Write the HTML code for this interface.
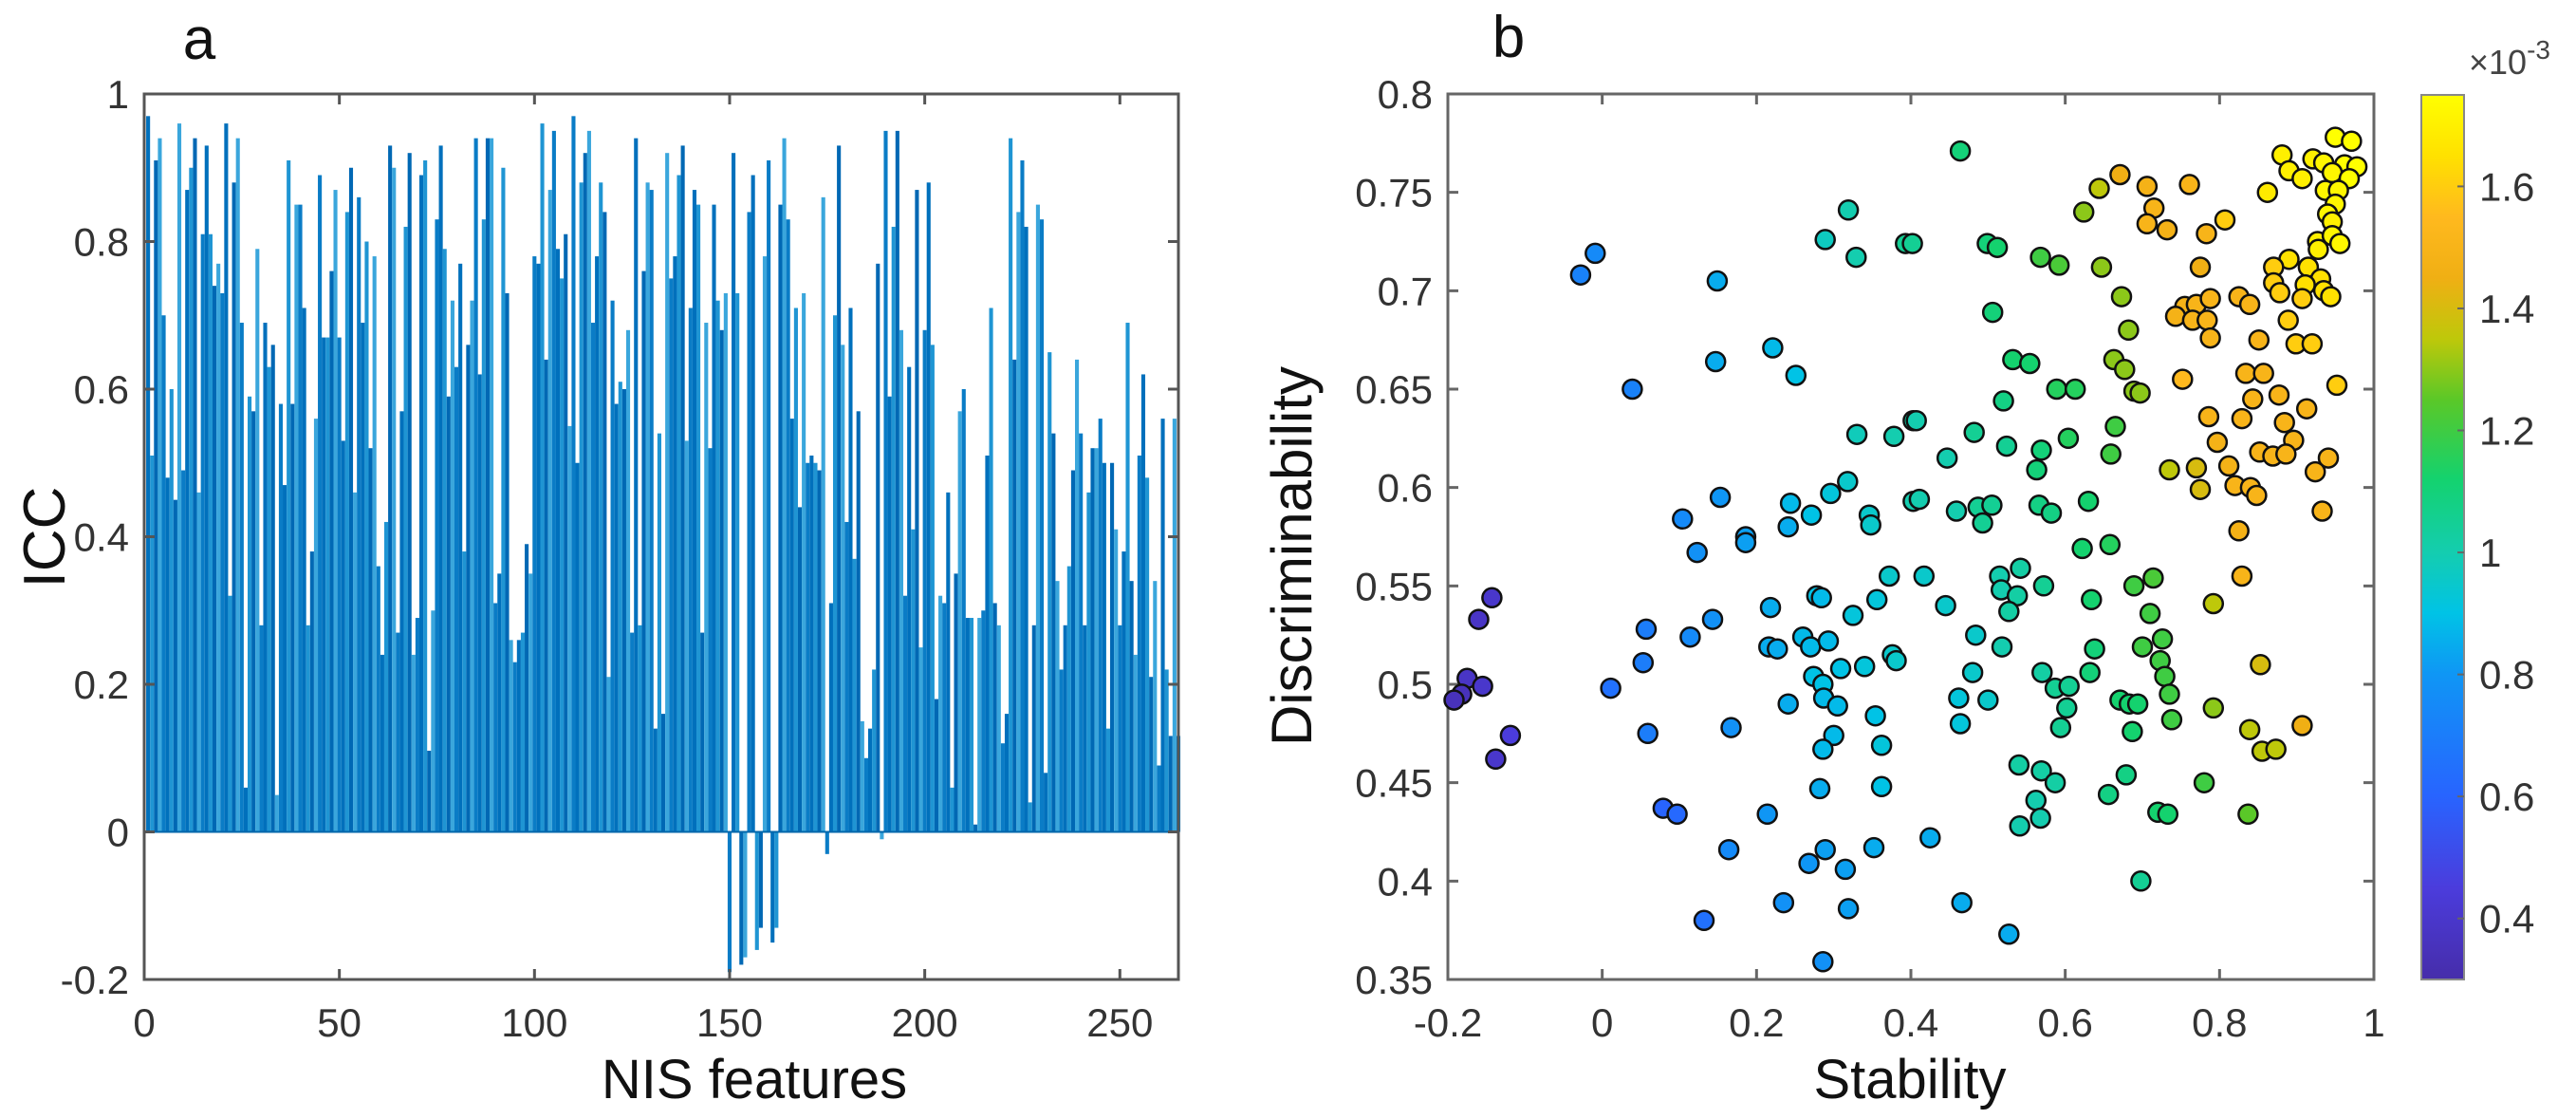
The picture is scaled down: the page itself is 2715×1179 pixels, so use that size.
<!DOCTYPE html>
<html><head><meta charset="utf-8"><style>
html,body{margin:0;padding:0;background:#fff}
svg{display:block;font-family:"Liberation Sans",sans-serif}
</style></head><body>
<svg id="fig" width="2715" height="1179" viewBox="0 0 2715 1179" xmlns="http://www.w3.org/2000/svg">
<g id="panelA"></g>
<g id="panelB"></g>
<text x="210" y="62" font-size="62" text-anchor="middle" fill="#111">a</text>
<text x="1590" y="60" font-size="62" text-anchor="middle" fill="#111">b</text>
<text x="795" y="1157" font-size="58" text-anchor="middle" fill="#111">NIS features</text>
<text transform="translate(68,566) rotate(-90)" font-size="62" text-anchor="middle" fill="#111">ICC</text>
<text x="2013" y="1157" font-size="58" text-anchor="middle" fill="#111">Stability</text>
<text transform="translate(1382,586) rotate(-90)" font-size="60" text-anchor="middle" fill="#111">Discriminability</text>
<text x="2602" y="78" font-size="36" fill="#444">×10<tspan dy="-16" font-size="28">-3</tspan></text>
</svg>
<script>
// ---------- Panel a data ----------
const barValues = [
0.97,0.51,0.91,0.94,0.70,0.48,0.60,0.45,0.96,0.49,0.87,0.90,0.94,0.46,0.81,0.93,0.81,0.74,0.77,0.73,
0.96,0.32,0.88,0.94,0.69,0.06,0.59,0.57,0.79,0.28,0.69,0.63,0.66,0.05,0.58,0.47,0.91,0.58,0.85,0.85,
0.71,0.28,0.38,0.56,0.89,0.67,0.67,0.76,0.87,0.67,0.53,0.84,0.90,0.46,0.86,0.69,0.80,0.52,0.78,0.36,
0.24,0.42,0.93,0.90,0.27,0.57,0.82,0.92,0.24,0.29,0.89,0.91,0.11,0.30,0.83,0.93,0.79,0.59,0.72,0.63,
0.77,0.38,0.66,0.72,0.94,0.62,0.83,0.94,
0.94,0.31,0.35,0.90,0.73,0.26,0.23,0.26,0.27,0.39,0.35,0.78,0.77,0.96,0.64,0.87,0.95,0.79,0.75,0.81,
0.55,0.97,0.50,0.88,0.92,0.95,0.69,0.78,0.88,0.84,0.21,0.72,0.58,0.61,0.60,0.68,0.27,0.94,0.28,0.76,
0.88,0.87,0.14,0.54,0.16,0.92,0.75,0.78,0.89,0.93,0.53,0.71,0.87,0.85,0.27,0.69,0.52,0.85,0.72,0.68,
0.73,-0.19,0.92,0.73,-0.18,-0.17,0.84,0.89,-0.16,-0.13,0.78,0.91,-0.15,-0.13,0.85,0.94,0.83,0.56,0.71,0.44,
0.73,0.50,0.51,0.50,0.49,0.86,-0.03,0.31,0.70,0.93,0.66,
0.42,0.71,0.37,0.57,0.15,0.10,0.14,0.22,0.77,-0.01,0.95,0.59,0.82,0.95,0.68,0.32,0.63,0.41,0.87,0.25,
0.68,0.88,0.66,0.18,0.32,0.31,0.46,0.06,0.35,0.57,0.60,0.29,0.29,0.01,0.29,0.30,0.51,0.71,0.31,0.28,
0.12,0.16,0.94,0.64,0.84,0.91,0.82,0.04,0.28,0.85,0.83,0.08,0.65,0.54,0.34,0.22,0.28,0.36,0.49,0.64,
0.54,0.28,0.46,0.52,0.52,0.56,0.50,0.14,0.50,0.41,0.28,0.38,0.69,0.34,0.24,0.51,0.62,0.48,0.21,0.34,
0.09,0.56,0.22,0.13,0.56,0.13];
const aXTicks = [0,50,100,150,200,250];
const aYTicks = [-0.2,0,0.2,0.4,0.6,0.8,1];
const aYTickLabels = ["-0.2","0","0.2","0.4","0.6","0.8","1"];

// ---------- Panel b data ----------
const stability = [
-0.009,-0.028,0.149,0.319,0.289,0.329,0.393,0.147,0.221,0.251,0.039,0.330,0.378,0.403,0.153,0.104,0.244,0.271,0.296,0.318,0.346,0.348,0.241,0.186,0.403,
0.464,0.671,0.644,0.706,0.761,0.624,0.715,0.706,0.732,0.783,0.807,0.862,0.881,0.890,0.907,0.921,0.935,0.950,0.971,0.962,0.978,0.946,0.968,0.937,0.954,0.950,0.940,0.946,0.927,0.946,0.956,0.928,
0.499,0.512,0.402,0.568,0.592,0.647,0.775,0.890,0.870,0.915,0.931,0.870,0.878,0.911,0.907,0.935,0.944,0.673,0.506,0.682,0.755,0.770,0.788,0.743,0.765,0.784,0.788,0.825,0.839,0.889,0.851,0.899,0.920,
0.532,0.554,0.663,0.677,0.689,0.697,0.752,0.834,0.857,0.952,0.589,0.613,0.520,0.843,0.877,0.913,0.407,0.482,0.786,0.829,0.884,0.665,0.447,0.524,0.569,0.604,0.659,0.797,0.896,0.852,0.869,0.886,0.941,0.924,
0.563,0.735,0.770,0.812,0.775,0.820,0.840,0.848,0.933,0.411,0.459,0.487,0.505,0.493,0.566,0.582,0.630,0.825,
0.123,0.186,0.372,-0.143,-0.160,0.057,0.143,0.114,0.218,0.278,0.284,0.356,0.325,0.053,0.216,0.227,0.260,0.270,0.293,0.376,0.381,-0.175,-0.155,-0.182,-0.192,0.011,0.274,0.286,0.309,0.340,0.241,0.287,0.305,0.354,
-0.119,-0.138,0.059,0.167,0.300,0.286,0.362,0.282,0.362,0.079,0.097,0.214,0.164,0.268,0.289,0.352,0.315,0.235,0.319,0.132,0.286,
0.622,0.658,0.829,0.417,0.515,0.542,0.517,0.538,0.527,0.572,0.634,0.689,0.714,0.710,0.792,0.445,0.484,0.518,0.638,0.700,0.726,0.723,0.729,0.735,0.853,0.480,0.570,0.632,0.587,0.605,0.602,0.462,0.500,0.671,0.683,0.694,0.792,0.907,
0.464,0.594,0.687,0.738,0.839,0.855,0.873,0.540,0.569,0.587,0.562,0.568,0.541,0.679,0.656,0.780,0.720,0.733,0.837,0.425,0.698,0.466,0.527];
const discriminability = [
0.719,0.708,0.705,0.741,0.726,0.717,0.724,0.664,0.671,0.657,0.650,0.627,0.626,0.634,0.595,0.584,0.592,0.586,0.597,0.603,0.586,0.581,0.580,0.575,0.593,
0.771,0.759,0.752,0.753,0.754,0.740,0.742,0.734,0.731,0.729,0.736,0.750,0.769,0.761,0.757,0.767,0.765,0.778,0.776,0.764,0.763,0.760,0.757,0.751,0.751,0.744,0.739,0.735,0.725,0.728,0.724,0.721,
0.724,0.722,0.724,0.717,0.713,0.712,0.712,0.716,0.712,0.712,0.706,0.704,0.699,0.703,0.696,0.700,0.697,0.697,0.689,0.680,0.692,0.693,0.696,0.687,0.685,0.685,0.676,0.697,0.693,0.685,0.675,0.673,0.673,
0.665,0.663,0.665,0.660,0.649,0.648,0.655,0.658,0.658,0.652,0.650,0.650,0.644,0.645,0.647,0.640,0.634,0.628,0.636,0.635,0.633,0.631,0.615,0.621,0.619,0.625,0.617,0.623,0.624,0.618,0.616,0.617,0.615,0.608,
0.609,0.609,0.610,0.611,0.599,0.601,0.600,0.596,0.588,0.594,0.588,0.590,0.591,0.582,0.591,0.587,0.593,0.578,
0.567,0.572,0.555,0.544,0.533,0.528,0.533,0.524,0.539,0.545,0.544,0.543,0.535,0.511,0.519,0.518,0.524,0.519,0.522,0.515,0.512,0.503,0.499,0.495,0.492,0.498,0.504,0.500,0.508,0.509,0.490,0.493,0.489,0.484,
0.474,0.462,0.475,0.478,0.474,0.467,0.469,0.447,0.448,0.437,0.434,0.434,0.416,0.409,0.416,0.417,0.406,0.389,0.386,0.380,0.359,
0.569,0.571,0.555,0.555,0.555,0.559,0.548,0.545,0.537,0.550,0.543,0.550,0.554,0.536,0.541,0.540,0.525,0.519,0.518,0.519,0.523,0.512,0.504,0.495,0.510,0.506,0.506,0.506,0.498,0.499,0.488,0.493,0.492,0.492,0.490,0.490,0.488,0.479,
0.480,0.478,0.476,0.482,0.477,0.466,0.467,0.459,0.456,0.450,0.441,0.432,0.428,0.454,0.444,0.450,0.435,0.434,0.434,0.422,0.400,0.389,0.373];
const colorValues = [
0.75,0.72,0.85,1.0,0.97,1.0,1.05,0.85,0.88,0.9,0.72,0.98,1.0,1.02,0.8,0.75,0.88,0.9,0.92,0.95,0.95,0.95,0.85,0.82,1.0,
1.1,1.45,1.35,1.48,1.5,1.3,1.5,1.5,1.48,1.5,1.6,1.68,1.7,1.7,1.7,1.7,1.72,1.75,1.75,1.75,1.75,1.72,1.75,1.72,1.72,1.72,1.72,1.7,1.7,1.72,1.72,1.7,
1.1,1.12,1.05,1.2,1.22,1.3,1.45,1.65,1.6,1.65,1.65,1.6,1.6,1.65,1.6,1.65,1.65,1.3,1.1,1.3,1.48,1.5,1.5,1.48,1.5,1.5,1.5,1.5,1.5,1.6,1.5,1.6,1.6,
1.12,1.12,1.3,1.3,1.3,1.3,1.55,1.5,1.5,1.6,1.15,1.15,1.08,1.5,1.5,1.5,1.0,1.05,1.5,1.5,1.5,1.2,1.0,1.05,1.1,1.15,1.2,1.48,1.5,1.5,1.5,1.5,1.5,1.5,
1.1,1.35,1.4,1.48,1.4,1.5,1.5,1.5,1.5,1.0,1.0,1.05,1.05,1.05,1.08,1.08,1.12,1.48,
0.78,0.82,0.95,0.4,0.38,0.7,0.78,0.75,0.85,0.9,0.88,0.92,0.92,0.7,0.85,0.85,0.88,0.88,0.88,0.95,0.95,0.38,0.4,0.35,0.35,0.65,0.9,0.9,0.9,0.92,0.85,0.88,0.88,0.9,
0.45,0.4,0.7,0.78,0.88,0.88,0.92,0.85,0.9,0.6,0.62,0.8,0.75,0.8,0.82,0.85,0.82,0.78,0.82,0.65,0.78,
1.12,1.15,1.5,0.95,1.0,1.02,1.0,1.02,1.02,1.05,1.12,1.2,1.22,1.2,1.35,0.95,0.95,1.0,1.1,1.2,1.2,1.2,1.2,1.2,1.4,0.95,1.02,1.1,1.05,1.05,1.05,0.92,0.95,1.12,1.12,1.12,1.3,1.45,
0.92,1.05,1.12,1.2,1.35,1.35,1.35,1.02,1.02,1.02,1.0,1.0,1.0,1.08,1.08,1.2,1.12,1.12,1.25,0.85,1.05,0.85,0.85];
const bXTicks = [-0.2,0,0.2,0.4,0.6,0.8,1];
const bXTickLabels = ["-0.2","0","0.2","0.4","0.6","0.8","1"];
const bYTicks = [0.35,0.4,0.45,0.5,0.55,0.6,0.65,0.7,0.75,0.8];
const bYTickLabels = ["0.35","0.4","0.45","0.5","0.55","0.6","0.65","0.7","0.75","0.8"];
const cbTicks = [0.4,0.6,0.8,1,1.2,1.4,1.6];
const cbTickLabels = ["0.4","0.6","0.8","1","1.2","1.4","1.6"];

const NS = "http://www.w3.org/2000/svg";
function mk(tag, attrs, parent){ const e=document.createElementNS(NS,tag); for(const k in attrs) e.setAttribute(k,attrs[k]); parent.appendChild(e); return e; }

const A = {l:152, r:1242, t:99, b:1032, xmin:0, xmax:265, ymin:-0.2, ymax:1};
const ax = v => A.l + (v-A.xmin)/(A.xmax-A.xmin)*(A.r-A.l);
const ay = v => A.b - (v-A.ymin)/(A.ymax-A.ymin)*(A.b-A.t);
const B = {l:1526, r:2502, t:99, b:1032, xmin:-0.2, xmax:1, ymin:0.35, ymax:0.8};
const bx = v => B.l + (v-B.xmin)/(B.xmax-B.xmin)*(B.r-B.l);
const by = v => B.b - (v-B.ymin)/(B.ymax-B.ymin)*(B.b-B.t);
const CB = {l:2552, r:2597, t:100, b:1032, cmin:0.3, cmax:1.75};
const cy = v => CB.b - (v-CB.cmin)/(CB.cmax-CB.cmin)*(CB.b-CB.t);

const cmapStops = [[0.30,[70,45,170]],[0.45,[75,60,220]],[0.60,[40,100,255]],[0.80,[15,150,245]],[0.90,[0,195,230]],[1.00,[20,205,175]],[1.12,[20,210,110]],[1.25,[90,200,40]],[1.35,[190,200,10]],[1.45,[240,175,20]],[1.55,[255,185,30]],[1.65,[255,225,0]],[1.75,[255,255,0]]];
function cmap(v){
  if(v<=cmapStops[0][0]) return `rgb(${cmapStops[0][1]})`;
  for(let i=1;i<cmapStops.length;i++){
    if(v<=cmapStops[i][0]){ const [a,ca]=cmapStops[i-1],[b,cb]=cmapStops[i]; const t=(v-a)/(b-a);
      return `rgb(${ca.map((c,j)=>Math.round(c+(cb[j]-c)*t)).join(',')})`; }
  }
  return `rgb(${cmapStops[cmapStops.length-1][1]})`;
}

const pa = document.getElementById('panelA');
const pb = document.getElementById('panelB');

const barCols = ["#0070bc","#1f95d3","#0068b4","#3aa6dc","#0a7cc6"];
const bw = (ax(1)-ax(0))*1.0;
barValues.forEach((v,i)=>{
  const xc = ax(i+1); if(xc > A.r) return;
  const y0 = ay(0), y1 = ay(v);
  const r = mk('rect',{x:(xc-bw/2).toFixed(2), y:Math.min(y0,y1).toFixed(2), width:bw.toFixed(2), height:Math.max(1,Math.abs(y1-y0)).toFixed(2), fill:barCols[i%5]},pa);
  
  
});
const zl = mk('line',{x1:A.l,x2:A.r,y1:ay(0),y2:ay(0),stroke:"#0066aa","stroke-width":2},pa);


const boxA = mk('rect',{x:A.l,y:A.t,width:A.r-A.l,height:A.b-A.t,fill:"none",stroke:"#555","stroke-width":3},pa);


aXTicks.forEach(t=>{
  const x=ax(t);
  const tk=mk('path',{d:`M${x},${A.b}v-11M${x},${A.t}v11`,stroke:"#555","stroke-width":3},pa);
  
  
  const lb=mk('text',{x:x,y:A.b+60,"font-size":42,"text-anchor":"middle",fill:"#333"},pa);
  lb.textContent=String(t);
  
  
});
aYTicks.forEach((t,i)=>{
  const y=ay(t);
  const tk=mk('path',{d:`M${A.l},${y}h11M${A.r},${y}h-11`,stroke:"#555","stroke-width":3},pa);
  
  
  const lb=mk('text',{x:A.l-16,y:y+15,"font-size":42,"text-anchor":"end",fill:"#333"},pa);
  lb.textContent=aYTickLabels[i];
  
  
});

const boxB = mk('rect',{x:B.l,y:B.t,width:B.r-B.l,height:B.b-B.t,fill:"none",stroke:"#666","stroke-width":3},pb);


bXTicks.forEach((t,i)=>{
  const x=bx(t);
  const tk=mk('path',{d:`M${x},${B.b}v-11M${x},${B.t}v11`,stroke:"#666","stroke-width":3},pb);
  
  
  const lb=mk('text',{x:x,y:B.b+60,"font-size":42,"text-anchor":"middle",fill:"#333"},pb);
  lb.textContent=bXTickLabels[i];
  
  
});
bYTicks.forEach((t,i)=>{
  const y=by(t);
  const tk=mk('path',{d:`M${B.l},${y}h11M${B.r},${y}h-11`,stroke:"#666","stroke-width":3},pb);
  
  
  const lb=mk('text',{x:B.l-16,y:y+15,"font-size":42,"text-anchor":"end",fill:"#333"},pb);
  lb.textContent=bYTickLabels[i];
  
  
});
stability.forEach((s,i)=>{
  const c = mk('circle',{cx:bx(s).toFixed(1), cy:by(discriminability[i]).toFixed(1), r:10, fill:cmap(colorValues[i]), stroke:"#111","stroke-width":2.5},pb);
  
  
});

const defs = mk('defs',{},pb);
const grad = mk('linearGradient',{id:"cbgrad",x1:0,y1:1,x2:0,y2:0},defs);
cmapStops.forEach(([v,c])=>{ mk('stop',{offset:((v-CB.cmin)/(CB.cmax-CB.cmin)).toFixed(3),"stop-color":`rgb(${c})`},grad); });
const cbr = mk('rect',{x:CB.l,y:CB.t,width:CB.r-CB.l,height:CB.b-CB.t,fill:"url(#cbgrad)",stroke:"#888","stroke-width":2},pb);


cbTicks.forEach((t,i)=>{
  const y=cy(t);
  const tk=mk('path',{d:`M${CB.r},${y}h-7`,stroke:"#666","stroke-width":2},pb);
  
  
  const lb=mk('text',{x:CB.r+16,y:y+15,"font-size":42,fill:"#333"},pb);
  lb.textContent=cbTickLabels[i];
  
  
});
</script>
</body></html>
